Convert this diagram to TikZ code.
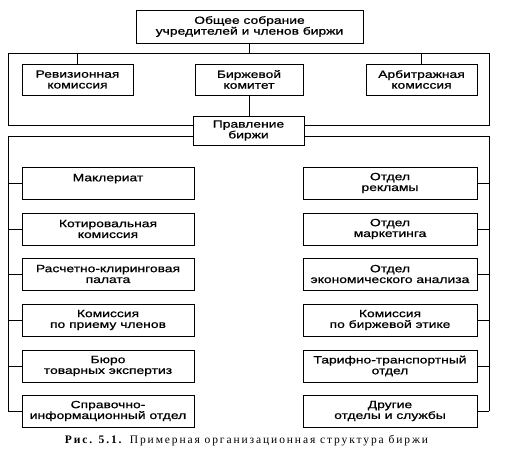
\documentclass[tikz,border=0pt]{standalone}
\usepackage{fontspec}
\setmainfont{Liberation Sans}
\newfontfamily\boxfont[FakeStretch=1.32,FakeBold=0.9]{Liberation Sans}
\newfontfamily\capfont[LetterSpace=16.5]{Liberation Serif}
\begin{document}
\begin{tikzpicture}[x=1pt,y=-1pt,
  box/.style={draw, line width=0.9pt, minimum height=32pt, align=center,
    font=\boxfont\fontsize{10.5}{10.8}\selectfont, inner sep=0pt},
  ln/.style={line width=0.9pt}]
\useasboundingbox (0,0) rectangle (508,463);
\node[box, minimum width=227pt, minimum height=33pt] (top) at (249.5,26.5) {Общее собрание\\учредителей и членов биржи};
\node[box, minimum width=111pt, minimum height=31pt] (rev) at (77.5,79.5) {Ревизионная\\комиссия};
\node[box, minimum width=108pt, minimum height=31pt] (bk) at (249,79.5) {Биржевой\\комитет};
\node[box, minimum width=111pt, minimum height=31pt] (arb) at (421.5,79.5) {Арбитражная\\комиссия};
\node[box, minimum width=111pt, minimum height=29pt] (pr) at (248.5,130.5) {Правление\\биржи};
\coordinate (tl) at (8,53);
\coordinate (tr) at (489,53);
\coordinate (bl) at (8,125);
\coordinate (br) at (489,125);
\coordinate (l0) at (8,136);
\coordinate (r0) at (489,136);
\draw[ln] (tl) -- (tr);
\draw[ln] (tl) -- (bl) -- (pr.west |- bl);
\draw[ln] (tr) -- (br) -- (pr.east |- br);
\draw[ln] (top.south) -- (top.south |- tl);
\draw[ln] (rev.north) -- (rev.north |- tl);
\draw[ln] (arb.north) -- (arb.north |- tl);
\draw[ln] (bk.south) -- (bk.south |- pr.north);
% left column
\node[box, minimum width=172pt] (L1) at (108,183) {Маклериат\\\mbox{}};
\node[box, minimum width=172pt] (L2) at (108,229) {Котировальная\\комиссия};
\node[box, minimum width=172pt] (L3) at (108,274) {Расчетно-клиринговая\\палата};
\node[box, minimum width=172pt] (L4) at (108,320) {Комиссия\\по приему членов};
\node[box, minimum width=172pt] (L5) at (108,366) {Бюро\\товарных экспертиз};
\node[box, minimum width=172pt] (L6) at (108,411) {Справочно-\\информационный отдел};
% right column
\node[box, minimum width=174pt] (R1) at (390,183) {Отдел\\рекламы};
\node[box, minimum width=174pt] (R2) at (390,229) {Отдел\\маркетинга};
\node[box, minimum width=174pt] (R3) at (390,274) {Отдел\\экономического анализа};
\node[box, minimum width=174pt] (R4) at (390,320) {Комиссия\\по биржевой этике};
\node[box, minimum width=174pt] (R5) at (390,366) {Тарифно-транспортный\\отдел};
\node[box, minimum width=174pt] (R6) at (390,411) {Другие\\отделы и службы};
\draw[ln] (pr.west |- l0) -- (l0) -- (l0 |- L6.west);
\draw[ln] (pr.east |- r0) -- (r0) -- (r0 |- R6.east);
\foreach \n in {L1,L2,L3,L4,L5,L6} \draw[ln] (l0 |- \n.west) -- (\n.west);
\foreach \n in {R1,R2,R3,R4,R5,R6} \draw[ln] (r0 |- \n.east) -- (\n.east);
\node[font=\capfont\fontsize{11.5}{13}\selectfont] (cap) at (246.5,440.5) {\textbf{Рис. 5.1.} Примерная организационная структура биржи};
\end{tikzpicture}
\end{document}
